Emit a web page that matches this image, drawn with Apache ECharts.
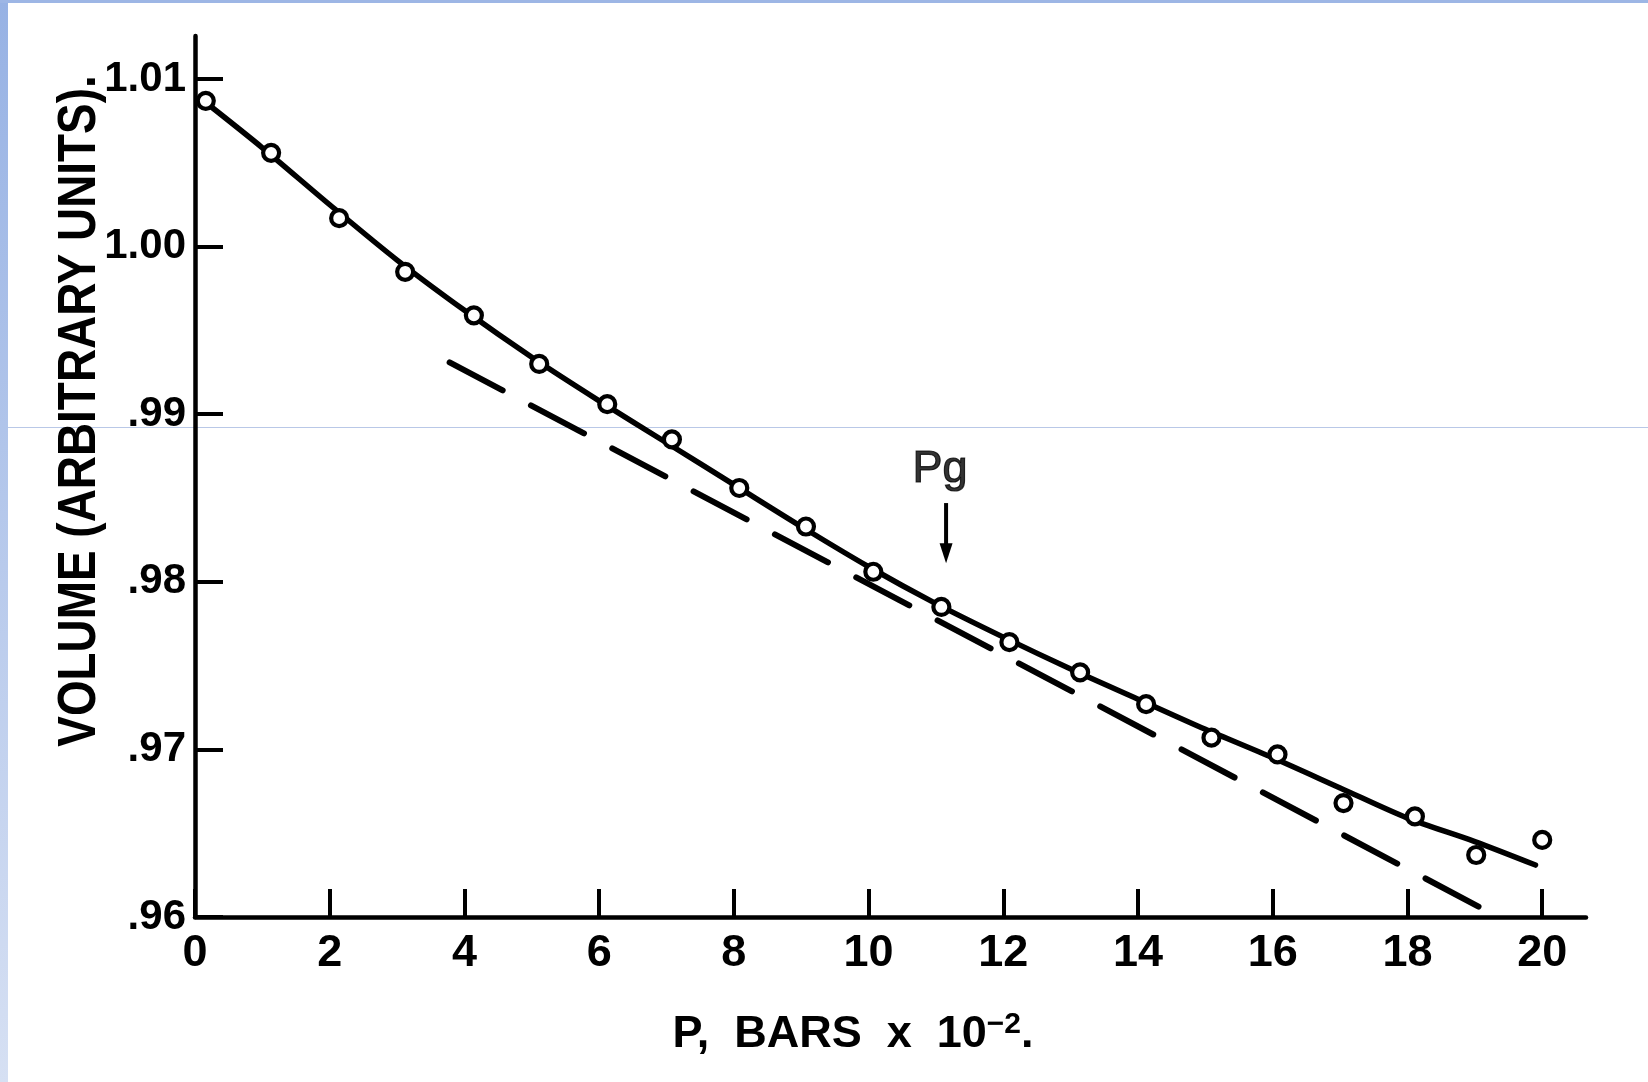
<!DOCTYPE html>
<html>
<head>
<meta charset="utf-8">
<style>
html,body{margin:0;padding:0;background:#fff;}
#chart{width:1648px;height:1082px;}
</style>
<script src="https://cdn.jsdelivr.net/npm/echarts@6/dist/echarts.min.js"></script>
</head>
<body>
<div id="chart"></div>
<script>
// Measured points (open circles)
const pressure = [0.16, 1.13, 2.14, 3.12, 4.14, 5.11, 6.12, 7.08, 8.08, 9.07, 10.07, 11.08, 12.09, 13.14, 14.12, 15.09, 16.07, 17.05, 18.11, 19.02, 20.0];
const volume   = [1.0087, 1.0056, 1.0017, 0.9985, 0.9959, 0.9930, 0.9906, 0.9885, 0.9856, 0.9833, 0.9806, 0.9785, 0.9764, 0.9746, 0.9727, 0.9707, 0.9697, 0.9668, 0.9660, 0.9637, 0.9646];
// Solid fitted curve
const curvePressure = [0.16, 1, 2, 3, 4, 5, 6, 7, 8, 9, 10, 11, 12, 13, 14, 15, 16, 17, 18, 19, 19.9];
const curveVolume   = [1.0086, 1.0059, 1.0025, 0.9992, 0.9962, 0.9934, 0.9908, 0.9883, 0.9858, 0.9833, 0.9809, 0.9787, 0.9767, 0.9748, 0.9730, 0.9712, 0.9695, 0.9677, 0.9659, 0.9645, 0.9631];
// Dashed straight line
const dashPressure = [3.78, 19.16];
const dashVolume   = [0.9931, 0.9604];
// Pg arrow
const arrowPressure = [11.15, 11.15];
const arrowVolume   = [0.9847, 0.9817];
const pgPressure = [11.06];
const pgVolume   = [0.9867];
const pgText = 'Pg';
// Axes
const xTicks = [0, 2, 4, 6, 8, 10, 12, 14, 16, 18, 20];
const yTicks = [0.96, 0.97, 0.98, 0.99, 1.00, 1.01];
const xTitle = ['P,  BARS  x  10', '−2', '.'];
const yTitle = 'VOLUME (ARBITRARY UNITS).';

const FONT = '"Liberation Sans", Arial, sans-serif';

const chart = echarts.init(document.getElementById('chart'), null, {renderer: 'canvas'});

const zip = (a, b) => a.map((v, i) => [v, b[i]]);

chart.setOption({
  backgroundColor: '#fff',
  animation: false,
  grid: {left: 195, right: 62, top: 36, bottom: 165},
  xAxis: {
    type: 'value', min: 0, max: 20.65,
    axisLine: {show: true, onZero: false, lineStyle: {color: '#000', width: 4.5}},
    axisTick: {show: true, inside: true, length: 28, customValues: xTicks, lineStyle: {color: '#000', width: 4}},
    axisLabel: {show: true, customValues: xTicks, margin: 14, color: '#000', fontSize: 45, fontWeight: 'bold', fontFamily: FONT},
    splitLine: {show: false}
  },
  yAxis: {
    type: 'value', min: 0.96, max: 1.01257,
    axisLine: {show: true, onZero: false, lineStyle: {color: '#000', width: 4.5}},
    axisTick: {show: true, inside: true, length: 28, customValues: yTicks, lineStyle: {color: '#000', width: 4}},
    axisLabel: {show: true, customValues: yTicks, margin: 9, color: '#000', fontSize: 42, fontWeight: 'bold', fontFamily: FONT,
      formatter: v => v >= 1 ? v.toFixed(2) : v.toFixed(2).substring(1)},
    splitLine: {show: false}
  },
  graphic: [
    {type: 'rect', silent: true, z: 0, shape: {x: 0, y: 0, width: 8, height: 1082},
      style: {fill: new echarts.graphic.LinearGradient(0, 0, 0, 1, [{offset: 0, color: '#97b2e4'}, {offset: 1, color: '#d6e0f3'}])}},
    {type: 'rect', silent: true, z: 0, shape: {x: 0, y: 0, width: 1648, height: 3}, style: {fill: '#9db6e5'}},
    {type: 'rect', silent: true, z: 0, shape: {x: 8, y: 427, width: 1640, height: 1}, style: {fill: '#b9c8e7'}},
    {type: 'text', silent: true, z: 10, x: 80, y: 411, rotation: Math.PI / 2, scaleX: 0.85,
      style: {text: yTitle, fill: '#000', fontSize: 54, fontWeight: 'bold', fontFamily: FONT, align: 'center', verticalAlign: 'middle'}},
    {type: 'text', silent: true, z: 10, x: 853, y: 1035,
      style: {text: '{a|' + xTitle[0] + '}{s|' + xTitle[1] + '}{a|' + xTitle[2] + '}', fill: '#000', align: 'center', verticalAlign: 'middle',
        rich: {
          a: {fontSize: 45, fontWeight: 'bold', fontFamily: FONT, lineHeight: 50, fill: '#000'},
          s: {fontSize: 30, fontWeight: 'bold', fontFamily: FONT, lineHeight: 30, verticalAlign: 'top', fill: '#000'}
        }}}
  ],
  series: [
    {
      name: 'curve', type: 'line', z: 3, smooth: 0.3, showSymbol: false, silent: true,
      data: zip(curvePressure, curveVolume),
      lineStyle: {color: '#000', width: 5.5, cap: 'round'}
    },
    {
      name: 'dashed', type: 'line', z: 3, showSymbol: false, silent: true,
      data: zip(dashPressure, dashVolume),
      lineStyle: {color: '#000', width: 6, type: [60, 32], cap: 'round'}
    },
    {
      name: 'arrow', type: 'line', z: 4, silent: true, showSymbol: true,
      data: [
        {value: [arrowPressure[0], arrowVolume[0]], symbol: 'none'},
        {value: [arrowPressure[1], arrowVolume[1]], symbol: 'triangle', symbolSize: [13, 20], symbolRotate: 180, itemStyle: {color: '#000', borderWidth: 0}}
      ],
      lineStyle: {color: '#000', width: 4},
      itemStyle: {color: '#000'}
    },
    {
      name: 'Pg', type: 'scatter', z: 4, silent: true, symbolSize: 1,
      itemStyle: {color: 'rgba(0,0,0,0)'},
      data: zip(pgPressure, pgVolume),
      label: {show: true, position: 'inside', formatter: pgText, color: '#000', fontSize: 45, fontFamily: FONT,
        textBorderColor: '#000', textBorderWidth: 1.2}
    },
    {
      name: 'points', type: 'scatter', z: 6, silent: true,
      data: zip(pressure, volume),
      symbol: 'circle', symbolSize: 16,
      itemStyle: {color: '#fff', borderColor: '#000', borderWidth: 4.2, opacity: 1}
    }
  ]
});
</script>
</body>
</html>
